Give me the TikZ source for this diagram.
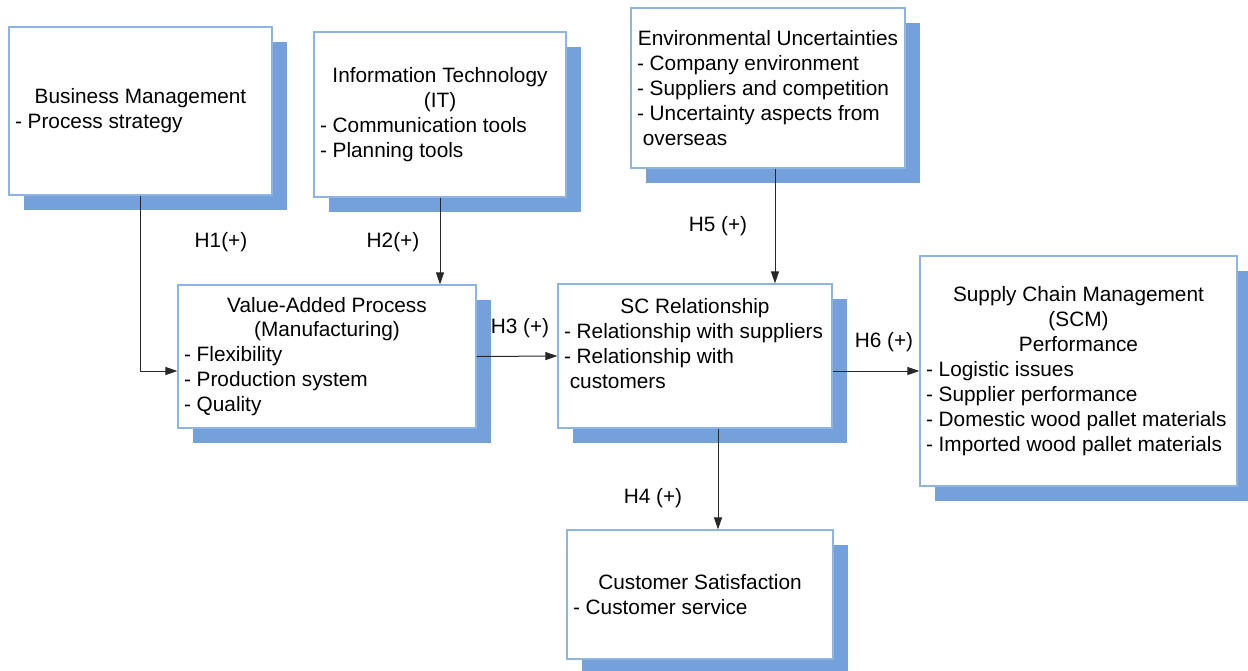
\documentclass[tikz,border=0pt]{standalone}
\usepackage{fontspec}
\setmainfont{Liberation Sans}
\usetikzlibrary{arrows.meta, positioning, shadows}
\definecolor{boxline}{RGB}{141,180,226}
\definecolor{boxshadow}{RGB}{116,160,220}
\definecolor{arrline}{RGB}{40,40,40}
\setlength{\parindent}{0pt}
\hyphenpenalty=10000
\newcommand{\ttl}[1]{{\centering #1\par}}

\begin{document}
\begin{tikzpicture}[
  x=0.5pt, y=-0.5pt,
  blk/.style = {
    rectangle, draw=boxline, line width=0.6pt, fill=white,
    general shadow={fill=boxshadow, shadow xshift=7.5pt, shadow yshift=-7.5pt},
    inner xsep=3pt, inner ysep=0pt, align=flush left,
    font=\fontsize{10.4pt}{12.45pt}\selectfont
  },
  hyp/.style = {font=\fontsize{10.4pt}{12.45pt}\selectfont, inner sep=1pt},
  arr/.style = {-{Triangle[length=6pt, width=4pt]}, draw=arrline, line width=0.5pt}
]
\useasboundingbox (0,0) rectangle (1248,670);
\node[blk, text width=125.5pt, minimum height=84pt] (bm) at (140.5,111) {\ttl{Business Management}- Process strategy};
\node[blk, text width=120pt, minimum height=82.5pt] (it) at (440,114.5) {\ttl{Information Technology\\(IT)}- Communication tools\\- Planning tools};
\node[blk, text width=131pt, minimum height=80pt] (env) at (768,88) {\ttl{Environmental Uncertainties}- Company environment\\- Suppliers and competition\\- Uncertainty aspects from\\\hspace*{0.28em}overseas};
\node[blk, text width=143pt, minimum height=71.5pt] (vap) at (327,356.5) {\ttl{Value-Added Process\\(Manufacturing)}- Flexibility\\- Production system\\- Quality};
\node[blk, text width=131pt, minimum height=72pt] (scr) at (695,356) {\ttl{SC Relationship}- Relationship with suppliers\\- Relationship with\\\hspace*{0.28em}customers\\\mbox{}};
\node[blk, text width=152.5pt, minimum height=115pt] (scm) at (1078.5,371) {\ttl{Supply Chain Management\\(SCM)\\Performance}- Logistic issues\\- Supplier performance\\- Domestic wood pallet materials\\- Imported wood pallet materials};
\node[blk, text width=127pt, minimum height=64.5pt] (cs) at (700,594.5) {\ttl{Customer Satisfaction}- Customer service};
\node[hyp] (h1) at (221,242) {H1(+)};
\node[hyp] (h2) at (393,242) {H2(+)};
\node[hyp] (h3) at (520,328) {H3 (+)};
\node[hyp] (h4) at (653,498) {H4 (+)};
\node[hyp] (h5) at (718,226) {H5 (+)};
\node[hyp] (h6) at (884,342) {H6 (+)};
\draw[arr] (bm.south) |- ([yshift=-7.25pt]vap.west);
\draw[arr] (it.south) -- (it.south |- vap.north);
\draw[arr] (vap.east) -- (scr.west);
\draw[arr] ([xshift=3.5pt]env.south) -- ([xshift=3.5pt]env.south |- scr.north);
\draw[arr] (scr.east |- scm.west) -- (scm.west);
\draw[arr] ([xshift=11.5pt]scr.south) -- ([xshift=9pt]cs.north);
\end{tikzpicture}
\end{document}
